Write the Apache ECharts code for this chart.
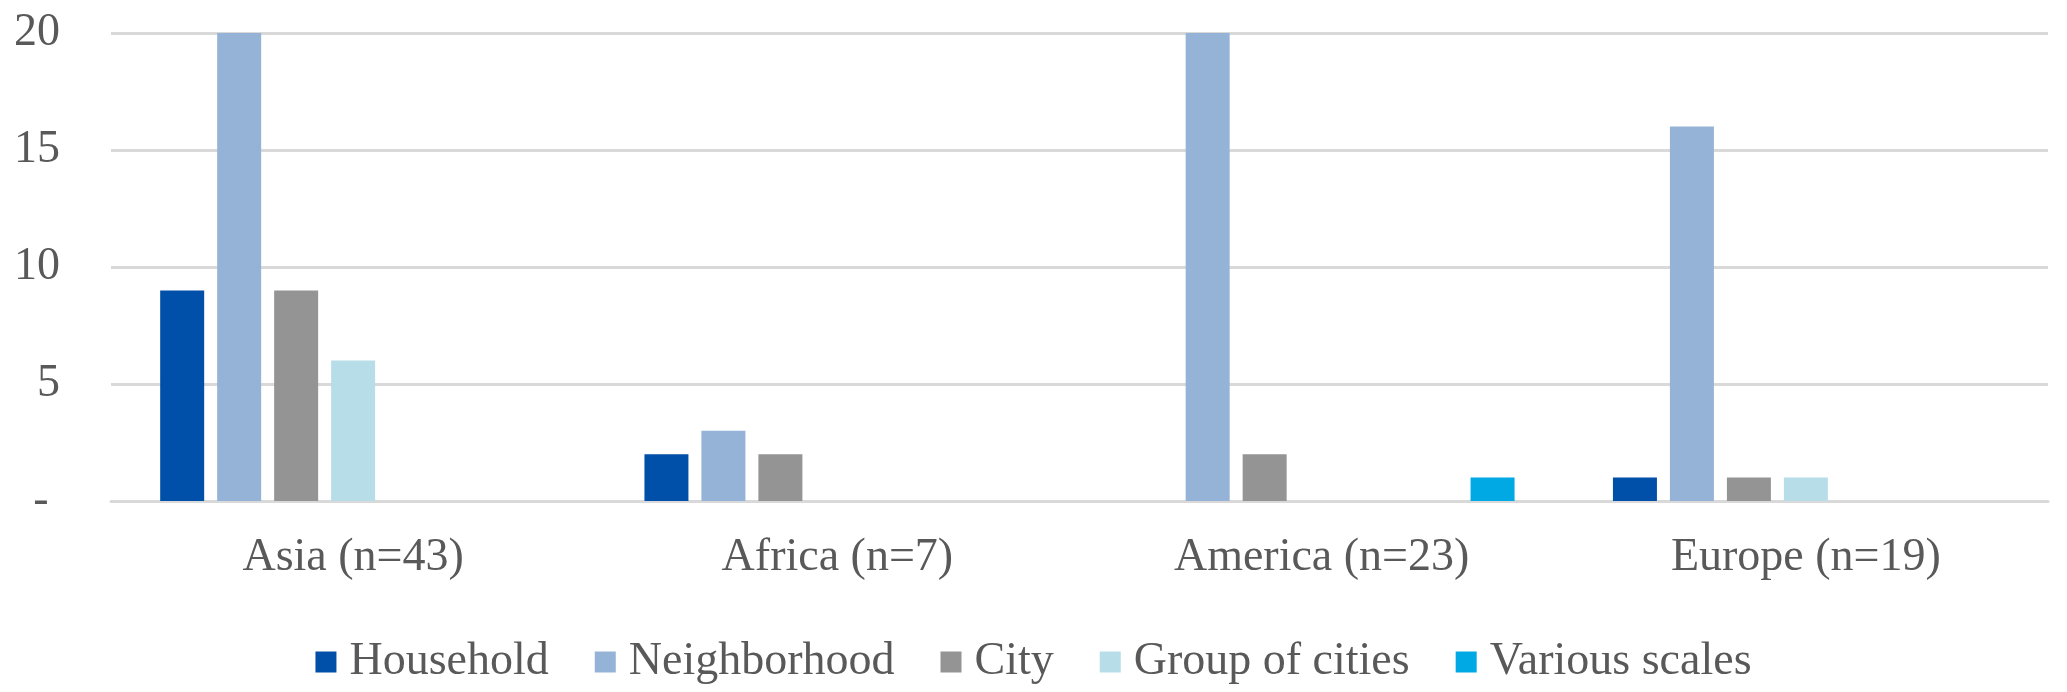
<!DOCTYPE html>
<html><head><meta charset="utf-8">
<script src="https://cdn.jsdelivr.net/npm/echarts@6/dist/echarts.min.js"></script>
<style>html,body{margin:0;padding:0;background:#fff}#c{width:2067px;height:692px}</style>
</head><body><div id="c"></div>
<script>
const categories = ['Asia (n=43)', 'Africa (n=7)', 'America (n=23)', 'Europe (n=19)'];
const household = [9, 2, 0, 1];
const neighborhood = [20, 3, 20, 16];
const city = [9, 2, 2, 1];
const groupOfCities = [6, 0, 0, 1];
const variousScales = [0, 0, 1, 0];
const yTicks = ['- ', '5', '10', '15', '20'];

const font = '"Liberation Serif", "Times New Roman", serif';
const txt = '#595959';
const blank = ['-', '-', '-', '-'];
function nz(a){ return a.map(v => v === 0 ? '-' : v); }
function bar(name, data, color){
  return {name, type:'bar', data:nz(data), barWidth:44, barGap:'29.5%',
    itemStyle:{color}, emphasis:{disabled:true}, silent:true};
}
const chart = echarts.init(document.getElementById('c'), null, {renderer:'canvas'});
chart.setOption({
  animation:false,
  grid:{left:111, right:19, top:33, bottom:191, containLabel:false},
  legend:{
    data:['Household','Neighborhood','City','Group of cities','Various scales'],
    bottom:2, left:'center', itemWidth:21, itemHeight:21, itemGap:46,
    icon:'rect',
    textStyle:{fontFamily:font, fontSize:46, color:txt, padding:[0,0,0,8]}
  },
  xAxis:{type:'category', data:categories,
    axisLine:{lineStyle:{color:'#d9d9d9', width:3}},
    axisTick:{show:false},
    axisLabel:{fontFamily:font, fontSize:46, color:txt, margin:34}
  },
  yAxis:{type:'value', min:0, max:20, interval:5,
    axisLine:{show:false}, axisTick:{show:false},
    splitLine:{lineStyle:{color:'#d9d9d9', width:3}},
    axisLabel:{fontFamily:font, fontSize:46, color:txt, margin:51, align:'right',
      formatter:(v)=>yTicks[Math.round(v/5)]}
  },
  series:[
    bar('Household', household, '#004fa8'),
    bar('Neighborhood', neighborhood, '#95b3d7'),
    bar('City', city, '#949494'),
    bar('Group of cities', groupOfCities, '#b7dde8'),
    {name:'_a', type:'bar', data:blank, barWidth:44, silent:true},
    {name:'_b', type:'bar', data:blank, barWidth:44, silent:true},
    bar('Various scales', variousScales, '#00a8e4')
  ]
});
</script></body></html>
